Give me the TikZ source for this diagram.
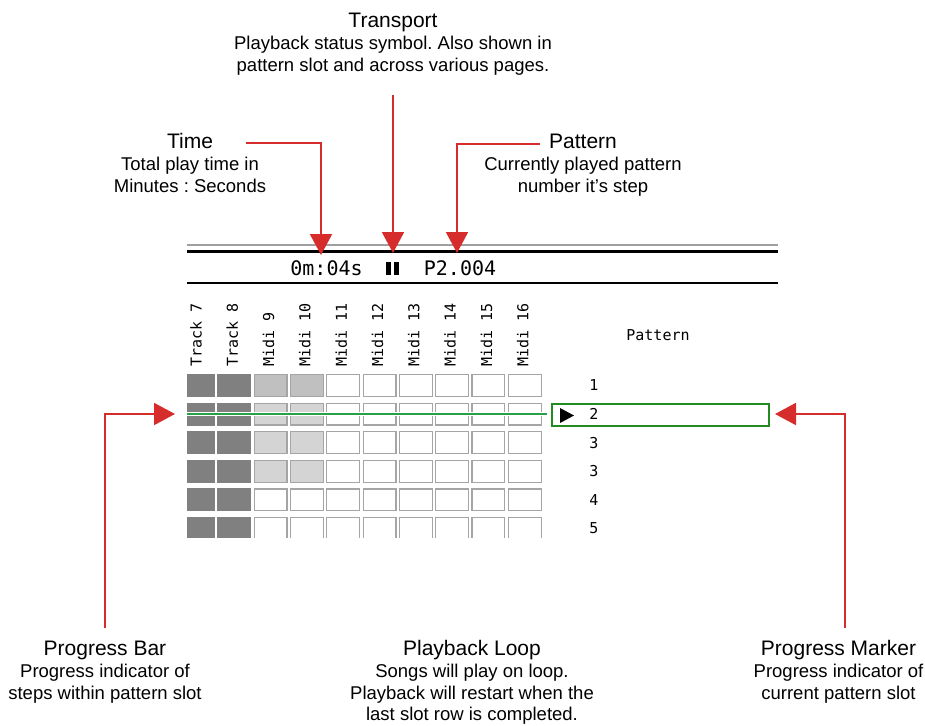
\documentclass[tikz,border=0pt]{standalone}
\usepackage{fontspec}
\setmainfont{Liberation Sans}
\newfontfamily\monofont{DejaVu Sans Mono}
\usetikzlibrary{arrows.meta,positioning}
\frenchspacing
\definecolor{callred}{RGB}{214,44,44}
\definecolor{bargreen}{RGB}{40,160,72}
\definecolor{boxgreen}{RGB}{34,140,34}
\definecolor{cellgray}{RGB}{128,128,128}
\definecolor{cellmid}{RGB}{192,192,192}
\definecolor{celllight}{RGB}{212,212,212}
\definecolor{celledge}{RGB}{165,165,165}

\begin{document}
\begin{tikzpicture}[x=1pt,y=-1pt,
  ttl/.style={font=\fontsize{21}{24}\selectfont,inner sep=0pt,anchor=base,text depth=4.5pt},
  txt/.style={font=\fontsize{18.5}{21.5}\selectfont,inner sep=0pt,align=center},
  mono/.style={font=\monofont\fontsize{20}{22}\selectfont,inner sep=0pt,anchor=base},
  lbl/.style={font=\monofont\fontsize{15}{17}\selectfont,inner sep=0pt},
  arr/.style={-{Triangle[length=21pt,width=22pt]},line width=2pt,callred},
  cell/.style={fill=white,draw=celledge,line width=1.2pt}
]
\useasboundingbox (0,0) rectangle (925,725);

% header bar
\draw[gray!75,line width=2pt] (187,245) -- (778,245);
\draw[black,line width=3pt] (187,251) -- (778,251);
\draw[black,line width=2.5pt] (187,283) -- (778,283);
\node[mono] (clock) at (326.5,275) {0m:04s};
\fill (385.5,262) rectangle (390.5,275);
\fill (394,262) rectangle (399,275);
\node[mono] (patnum) at (460,275) {P2.004};

% track columns
\foreach \name [count=\i from 0] in {Track 7,Track 8,Midi 9,Midi 10,Midi 11,
    Midi 12,Midi 13,Midi 14,Midi 15,Midi 16}
  \node[lbl,rotate=90,anchor=west] (col\i) at ({196+36.3*\i},367) {\name};

% slot grid
\begin{scope}
\clip (187,300) rectangle (560,537);
\foreach \r in {0,...,5}{
  \foreach \c in {0,1}
    \fill[cellgray] ({181+36.3*\c},{374+28.6*\r}) rectangle ++(34,23);
  \foreach \c in {4,...,9}
    \draw[cell] ({181.6+36.3*\c},{374.6+28.6*\r}) rectangle ++(32.8,21.8);
}
\foreach \c in {2,3}{
  \draw[cell,fill=cellmid] ({181.6+36.3*\c},374.6) rectangle ++(32.8,21.8);
  \foreach \r in {1,2,3}
    \draw[cell,fill=celllight] ({181.6+36.3*\c},{374.6+28.6*\r}) rectangle ++(32.8,21.8);
  \foreach \r in {4,5}
    \draw[cell] ({181.6+36.3*\c},{374.6+28.6*\r}) rectangle ++(32.8,21.8);
}
\end{scope}

% progress bar
\coordinate (barL) at (187,414);
\coordinate (barR) at (547,414);
\draw[white,line width=4.5pt] (barL) -- (barR);
\draw[bargreen,line width=2.6pt] (barL) -- (barR);

% pattern column
\node[lbl] (pathead) at (658,335) {Pattern};
\foreach \n [count=\i from 0] in {1,2,3,3,4,5}
  \node[lbl] (slot\i) at (594,{385.5+28.6*\i}) {\n};
\node[draw=boxgreen,line width=1.3pt,minimum width=217pt,minimum height=22pt,
      inner sep=0pt] (marker) at (660.5,415) {};
\fill (560,408) -- (574,415.5) -- (560,423) -- cycle;

% callouts
\node[ttl] (transttl) at (393,27.5) {Transport};
\node[txt,below=4pt of transttl] (transtxt) {Playback status symbol. Also shown in\\
  pattern slot and across various pages.};
\node[ttl] (timettl) at (190,148.5) {Time};
\node[txt,below=4pt of timettl] (timetxt) {Total play time in\\Minutes : Seconds};
\node[ttl] (patttl) at (583,148.5) {Pattern};
\node[txt,below=4pt of patttl] (pattxt) {Currently played pattern\\number it’s step};
\node[ttl] (barttl) at (105,655.5) {Progress Bar};
\node[txt,below=4pt of barttl] (bartxt) {Progress indicator of\\steps within pattern slot};
\node[ttl] (loopttl) at (472,655.5) {Playback Loop};
\node[txt,below=4pt of loopttl] (looptxt) {Songs will play on loop.\\
  Playback will restart when the\\last slot row is completed.};
\node[ttl] (markttl) at (838.5,655.5) {Progress Marker};
\node[txt,below=4pt of markttl] (marktxt) {Progress indicator of\\current pattern slot};

\coordinate (timetip) at (321,255);
\coordinate (transtip) at (393,253);
\coordinate (pattip) at (457,253);
\coordinate (bartip) at (175,414);
\coordinate (marktip) at (775,414);
\draw[arr] ([xshift=33pt]timettl.east) -| (timetip);
\draw[arr] ([yshift=-20pt]transtxt.south) -- (transtip);
\draw[arr] ([xshift=-9pt]patttl.west) -| (pattip);
\draw[arr] ([yshift=12.5pt]barttl.north) |- (bartip);
\draw[arr] ([xshift=6.5pt,yshift=12.5pt]markttl.north) |- (marktip);
\end{tikzpicture}
\end{document}
